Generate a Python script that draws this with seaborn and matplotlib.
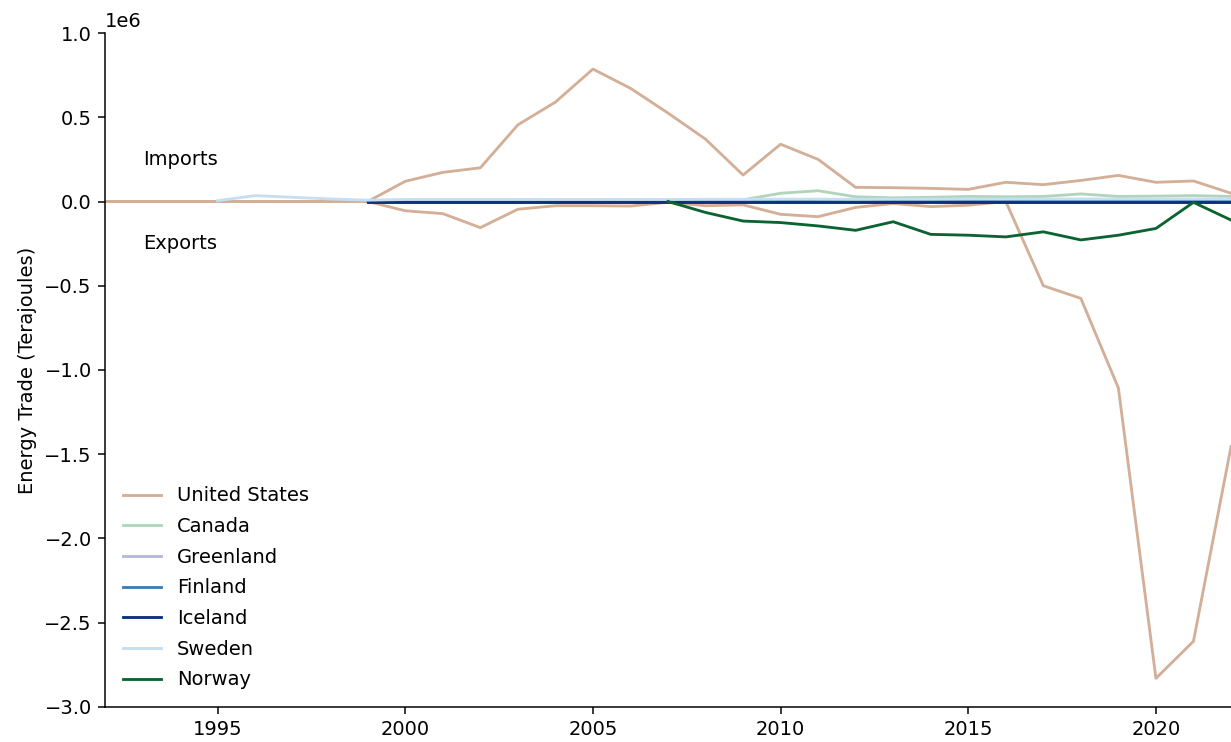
import numpy as np
import pandas as pd
import matplotlib
matplotlib.use("Agg")
import matplotlib.pyplot as plt
import seaborn as sns

# ---- data (terajoules) ----
years = list(range(1992, 2023))

us_imports = [0, 0, 0, 0, 0, 0, 0, 0,
              120000, 173000, 200000, 455000, 590000, 786000, 672000, 525000,
              370000, 157000, 340000, 250000, 84000, 82000, 78000, 72000,
              114000, 100000, 125000, 155000, 114000, 122000, 49000]
us_exports = [0, 0, 0, 0, 0, 0, 0, 0,
              -55000, -72000, -155000, -46000, -25000, -25000, -27000, -5000,
              -25000, -20000, -76000, -90000, -35000, -12000, -30000, -22000,
              0, -500000, -575000, -1107000, -2830000, -2610000, -1455000]

later_years = list(range(1999, 2023))
canada_imports = [0, 0, 0, 0, 0, 0, 0, 0, 0, 5000, 10000, 49000, 64000,
                  28000, 22000, 25000, 30000, 28000, 30000, 45000, 30000,
                  32000, 35000, 30000]
canada_exports = [0, 0, 0, 0, 0, 0, 0, 0, 0, 0, 0, -2000, -2000,
                  -1000, -1000, -1000, -1000, -1000, -1000, -1000, -1000,
                  -1000, -1000, -1000]
greenland_imports = [0] * 24
finland_imports = [0, 0, 0, 0, 0, 0, 0, 0, 0, 0, 2000, 3000, 3000,
                   2000, 3000, 4000, 4000, 5000, 5000, 4000, 6000,
                   5000, 4000, 4000]
iceland_imports = [0] * 24

sweden_years = list(range(1995, 2023))
sweden_imports = [5000, 35000, 25000, 15000, 8000, 12000, 12000, 12000,
                  12000, 12000, 12000, 12000, 12000, 13000, 13000, 14000,
                  14000, 13000, 14000, 14000, 15000, 15000, 15000, 15000,
                  15000, 15000, 15000, 15000]

norway_years = list(range(2007, 2023))
norway_exports = [0, -65000, -116000, -125000, -145000, -171000, -120000,
                  -195000, -200000, -210000, -180000, -228000, -200000,
                  -160000, -5000, -110000]

countries = ["United States", "Canada", "Greenland", "Finland",
             "Iceland", "Sweden", "Norway"]
colors = ["#d3af97", "#b1d5bb", "#b4b9dc", "#3b7cb1",
          "#0b2f7b", "#c6def1", "#0b6331"]


def frame(country, flow, yrs, vals):
    return pd.DataFrame({"year": yrs, "value": vals,
                         "country": country, "flow": flow})


df = pd.concat([
    frame("United States", "Imports", years, us_imports),
    frame("United States", "Exports", years, us_exports),
    frame("Canada", "Imports", later_years, canada_imports),
    frame("Canada", "Exports", later_years, canada_exports),
    frame("Greenland", "Imports", later_years, greenland_imports),
    frame("Finland", "Imports", later_years, finland_imports),
    frame("Iceland", "Imports", later_years, iceland_imports),
    frame("Sweden", "Imports", sweden_years, sweden_imports),
    frame("Norway", "Exports", norway_years, norway_exports),
], ignore_index=True)

# ---- figure ----
plt.rcParams["font.family"] = ["DejaVu Sans"]
plt.rcParams["font.size"] = 10.3

dpi = 136
fig = plt.figure(figsize=(1231 / dpi, 742 / dpi), dpi=dpi)
ax = fig.add_axes([0.0853, 0.0472, 1 - 0.0853, 0.9555 - 0.0472])

sns.lineplot(data=df, x="year", y="value", hue="country", units="flow",
             estimator=None, hue_order=countries,
             palette=dict(zip(countries, colors)), linewidth=1.5, ax=ax)

ax.set_xlim(1992, 2022)
ax.set_ylim(-3e6, 1e6)
ax.set_xlabel("")
ax.set_ylabel("Energy Trade (Terajoules)")

ax.text(1994, 0.25e6, "Imports", ha="center", va="center")
ax.text(1994, -0.25e6, "Exports", ha="center", va="center")

handles, labels = ax.get_legend_handles_labels()
ax.legend(handles, labels, loc="lower left", frameon=False,
          fontsize=10.3, labelspacing=0.6)

sns.despine(ax=ax)

fig.savefig("out.png", dpi=dpi)
